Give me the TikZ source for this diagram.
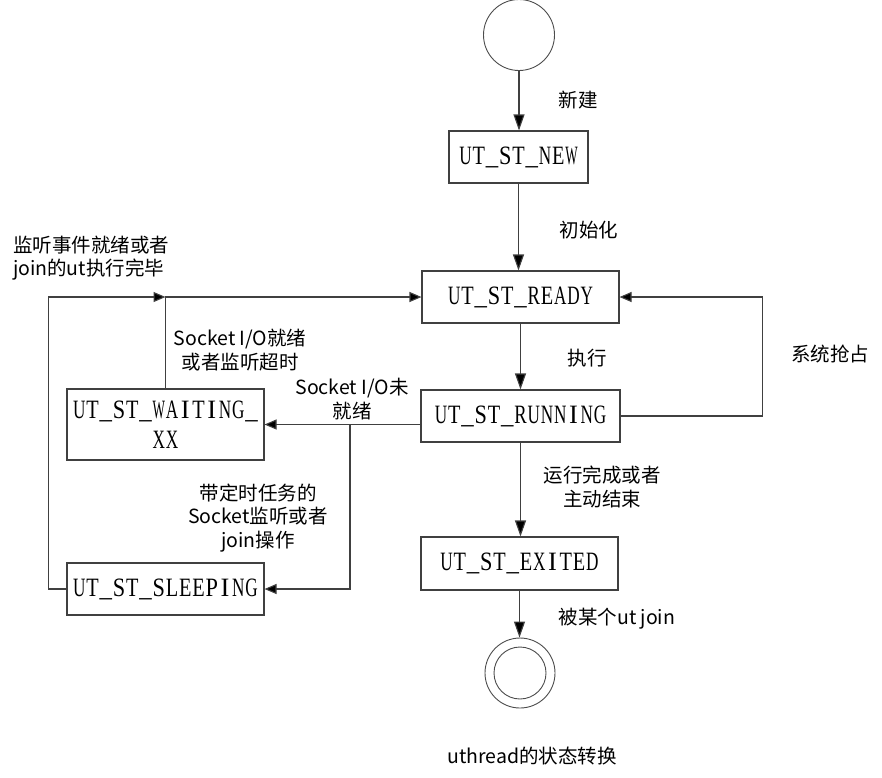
\documentclass[tikz,border=0pt]{standalone}
\usepackage{fontspec}
\usepackage{graphicx}
\setmainfont{Noto Sans CJK SC}
\newfontfamily\boxfont{Liberation Serif}
\usetikzlibrary{arrows.meta}
\newsavebox\chbox
\newcommand\onech[1]{\sbox\chbox{#1}\makebox[13.25pt]{\ifdim\wd\chbox>12.4pt \scalebox{\fpeval{12.4pt/\wd\chbox}}[1]{\usebox\chbox}\else\usebox\chbox\fi}}
\ExplSyntaxOn
\NewDocumentCommand\monotxt{m}{\tl_map_inline:nn {#1} {\onech{##1}}}
\ExplSyntaxOff
\begin{document}
\begin{tikzpicture}[x=1pt,y=-1pt,
 state/.style={draw=black!75, line width=1.1pt, rectangle, minimum width=197pt, minimum height=52pt, inner sep=0pt, align=center, font=\boxfont\fontsize{26.5}{30}\selectfont},
 arr/.style={draw=black!75, line width=1.1pt, -{Triangle[length=12pt,width=10pt,fill=black]}},
 varr/.style={draw=black!75, line width=1.1pt, -{Triangle[length=16pt,width=11pt,fill=black]}},
 circ/.style={draw=black!70, line width=0.9pt, circle, inner sep=0pt},
 lbl/.style={font=\fontsize{19.5}{23.5}\selectfont, align=center, inner sep=0pt}]
\useasboundingbox (0,0) rectangle (882,777);

% states
\node[circ, minimum size=71pt] (start) at (519,35) {};
\node[state, minimum width=139pt] (new) at (518.5,157) {\monotxt{UT\_ST\_NEW}};
\node[state] (ready) at (520.5,297) {\monotxt{UT\_ST\_READY}};
\node[state, minimum width=199pt] (run) at (520.5,416) {\monotxt{UT\_ST\_RUNNING}};
\node[state, minimum height=53pt] (exit) at (519.5,563.5) {\monotxt{UT\_ST\_EXITED}};
\node[state, minimum height=71pt] (wait) at (165.5,424.5) {\monotxt{UT\_ST\_WAITING\_}\\\monotxt{XX}};
\node[state] (sleep) at (165.5,589) {\monotxt{UT\_ST\_SLEEPING}};
\node[circ, minimum size=70pt] (end) at (520,673) {};
\node[circ, minimum size=52pt] (endin) at (520,673) {};

% vertical flow
\draw[varr] (start.south) -- (start.south |- new.north);
\draw[varr] (new.south) -- (new.south |- ready.north);
\draw[varr] (ready.south) -- (ready.south |- run.north);
\draw[varr] (run.south) -- (run.south |- exit.north);
\draw[varr] (exit.south) -- (exit.south |- end.north);

% preemption loop
\draw[arr] (run.east) -- ++(142,0) |- (ready.east);

% running -> waiting / sleeping
\coordinate (rw) at (run.west |- wait.east);
\draw[arr] (rw) -- (wait.east);
\coordinate (br) at (350,424.5);
\draw[arr] (br) |- (sleep.east);

% waiting -> ready, sleeping -> ready
\draw[arr] (wait.north) |- (ready.west);
\coordinate (j) at (wait.north |- ready.west);
\draw[arr] (sleep.west) -- ++(-18,0) |- (j);

% labels
\node[lbl] (l1) at (578,100) {新建};
\node[lbl] (l2) at (589,230) {初始化};
\node[lbl] (l3) at (587,358) {执行};
\node[lbl] (l4) at (830,354) {系统抢占};
\node[lbl] (l5) at (602,487) {运行完成或者\\主动结束};
\node[lbl] (l6) at (617,619) {被某个ut join};
\node[lbl] (l7) at (352,399) {Socket I/O未\\就绪};
\node[lbl] (l8) at (240,350) {Socket I/O就绪\\或者监听超时};
\node[lbl, align=left] (l9) at (91,258) {监听事件就绪或者\\join的ut执行完毕};
\node[lbl] (l10) at (258,518) {带定时任务的\\Socket监听或者\\join操作};
\node[lbl] (cap) at (532,756) {uthread的状态转换};
\end{tikzpicture}
\end{document}
